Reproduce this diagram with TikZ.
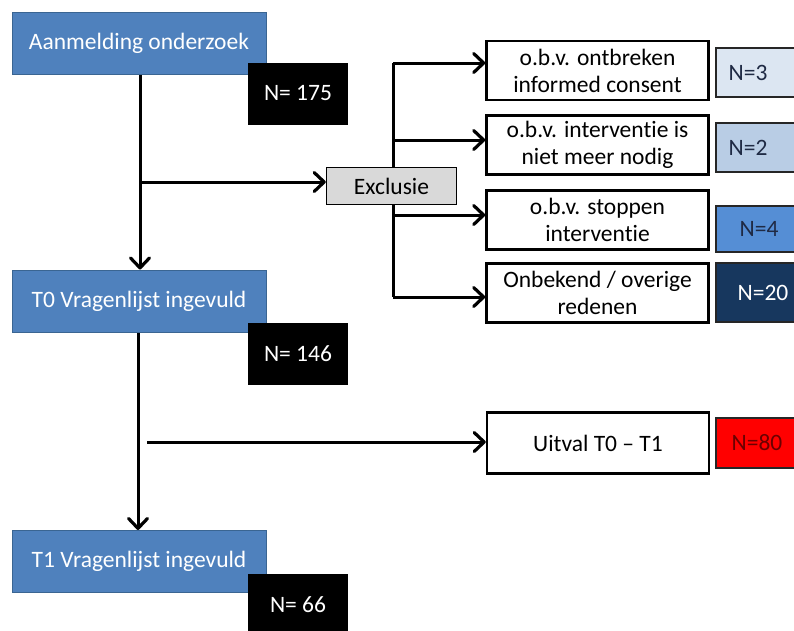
\documentclass[tikz,border=0pt]{standalone}
\usepackage{fontspec}
\setmainfont{Carlito}[Ligatures={TeX,NoCommon}]
\usetikzlibrary{arrows.meta,backgrounds}
\definecolor{bluebox}{HTML}{4F81BD}
\definecolor{blueedge}{HTML}{3A6592}
\definecolor{cthree}{HTML}{DCE6F2}
\definecolor{ctwo}{HTML}{B9CDE5}
\definecolor{cfour}{HTML}{558ED5}
\definecolor{ctwenty}{HTML}{17375E}
\definecolor{navytext}{HTML}{1F2A44}
\definecolor{darkred}{HTML}{6B0000}
\definecolor{exclgray}{HTML}{D9D9D9}
\begin{document}
\begin{tikzpicture}[x=1pt,y=-1pt,
  every node/.style={font=\fontsize{23.5}{27}\selectfont, inner sep=0pt, align=center},
  stagebox/.style={rectangle, fill=bluebox, draw=blueedge, line width=1pt, text=white, minimum width=254pt, minimum height=62pt},
  countbox/.style={rectangle, fill=black, text=white, minimum width=100pt, minimum height=62pt},
  reasonbox/.style={rectangle, fill=white, draw=black, line width=2.5pt, minimum width=222pt, minimum height=59pt},
  nbox/.style={rectangle, draw=black!85, line width=2pt, minimum width=84pt},
  exclbox/.style={rectangle, fill=exclgray, draw=black, line width=1.5pt, minimum width=130pt, minimum height=37pt},
  conn/.style={line width=3pt},
  arr/.style={line width=3pt, -{Straight Barb[length=10pt,width=19pt,line width=3.2pt,line join=round,line cap=round]}}
]
\useasboundingbox (0,0) rectangle (794,630);

% left column
\node[stagebox] (A) at (139,43.5) {Aanmelding onderzoek};
\node[countbox] (n175) at (298,93.5) {N= 175};
\node[stagebox] (T0) at (139,301) {T0 Vragenlijst ingevuld};
\node[countbox] (n146) at (298,354) {N= 146};
\node[stagebox] (T1) at (139,561.5) {T1 Vragenlijst ingevuld};
\node[countbox] (n66) at (298,605) {N= 66};

% exclusion
\node[exclbox] (excl) at (391.5,186) {Exclusie};

% reasons
\node[reasonbox] (r1) at (597.5,70.5) {o.b.v. ontbreken\\informed consent};
\node[reasonbox] (r2) at (597.5,145) {o.b.v. interventie is\\niet meer nodig};
\node[reasonbox] (r3) at (597.5,220) {o.b.v. stoppen\\interventie};
\node[reasonbox] (r4) at (597.5,293) {Onbekend / overige\\redenen};
\node[reasonbox, minimum height=61pt] (ru) at (598,443) {Uitval T0 – T1};

% counts on the right
\node[nbox, fill=cthree, minimum height=49pt, label={[xshift=-10pt,text=navytext]center:N=3}] (c3) at (758,72.5) {};
\node[nbox, fill=ctwo, minimum height=49pt, label={[xshift=-10pt,text=navytext]center:N=2}] (c2) at (758,147.5) {};
\node[nbox, fill=cfour, minimum height=46pt, label={[xshift=1pt,text=navytext]center:N=4}] (c4) at (758,229) {};
\node[nbox, fill=ctwenty, minimum height=59pt, label={[xshift=5pt,text=white]center:N=20}] (c20) at (758,292.5) {};
\node[nbox, fill=red, minimum height=50pt, label={[xshift=-1pt,text=darkred]center:N=80}] (c80) at (758,443) {};

% junction coordinates
\coordinate (j1) at (140,182);
\coordinate (b1) at (393,63);
\coordinate (b2) at (393,140);
\coordinate (b3) at (393,215);
\coordinate (b4) at (393,297);
\coordinate (j2) at (147,442);

\begin{scope}[on background layer]
  \draw[arr] (A.south -| 140,0) -- (T0.north -| 140,0);
  \draw[arr] (j1) -- (j1 -| excl.west);
  \draw[conn] (b1) -- (b4);
  \draw[arr] (b1) -- (b1 -| r1.west);
  \draw[arr] (b2) -- (b2 -| r2.west);
  \draw[arr] (b3) -- (b3 -| r3.west);
  \draw[arr] (b4) -- (b4 -| r4.west);
  \draw[arr] (T0.south -| 138,0) -- (T1.north -| 138,0);
  \draw[arr] (j2) -- (j2 -| ru.west);
\end{scope}
\end{tikzpicture}
\end{document}
